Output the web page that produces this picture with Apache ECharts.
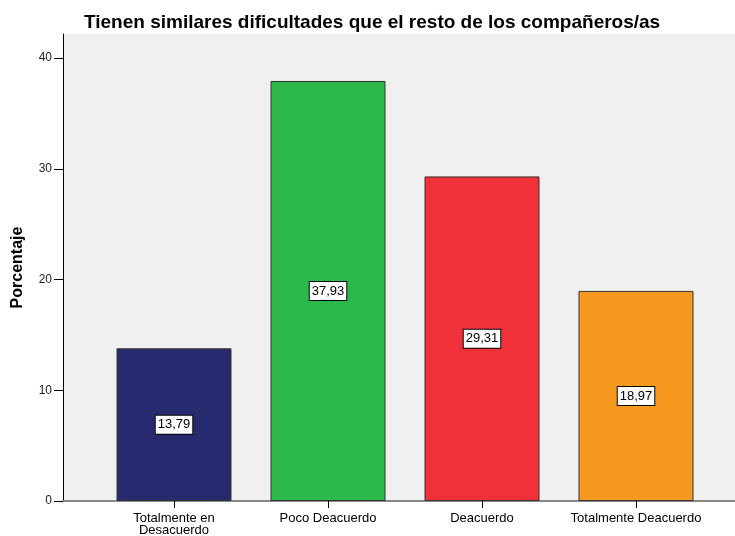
<!DOCTYPE html>
<html><head><meta charset="utf-8">
<script src="https://cdn.jsdelivr.net/npm/echarts@6/dist/echarts.min.js"></script>
<style>html,body{margin:0;padding:0;background:#fff}#c{width:735px;height:536px}</style>
</head><body><div id="c"></div>
<script>
const categories = ['Totalmente en\nDesacuerdo', 'Poco Deacuerdo', 'Deacuerdo', 'Totalmente Deacuerdo'];
const values = [13.79, 37.93, 29.31, 18.97];
const colors = ['#282A6F', '#2DB84B', '#F0313A', '#F7991F'];
const yTicks = [0, 10, 20, 30, 40];
const titleText = 'Tienen similares dificultades que el resto de los compañeros/as';
const yName = 'Porcentaje';

const chart = echarts.init(document.getElementById('c'));
const YMAX = 42.17;
chart.setOption({
  animation: false,
  title: {
    text: titleText, left: 79, top: 8,
    textStyle: {fontFamily: 'Liberation Sans', fontSize: 19, fontWeight: 'bold', color: '#000'}
  },
  grid: [
    {left: 63, right: 0, top: 34, bottom: 35, show: true, backgroundColor: '#F0F0F0', borderWidth: 0, containLabel: false, outerBoundsMode: 'none'},
    {left: 97, right: 22, top: 34, bottom: 35, containLabel: false, outerBoundsMode: 'none'}
  ],
  xAxis: [
    {gridIndex: 0, type: 'value', min: 0, max: 1, axisLine: {show: true, onZero: false, lineStyle: {color: '#000', width: 1}}, axisTick: {show: false}, axisLabel: {show: false}, splitLine: {show: false}},
    {gridIndex: 0, type: 'value', position: 'top', min: 0, max: 1, axisLine: {show: true, lineStyle: {color: '#888', width: 2}}, axisTick: {show: false}, axisLabel: {show: false}, splitLine: {show: false}},
    {gridIndex: 1, type: 'category', data: categories, axisLine: {show: false},
      axisTick: {show: true, alignWithLabel: true, interval: 0, length: 7, lineStyle: {color: '#000'}},
      axisLabel: {interval: 0, hideOverlap: false, fontFamily: 'Liberation Sans', fontSize: 13, color: '#000', lineHeight: 12, margin: 11}}
  ],
  yAxis: [
    {gridIndex: 0, type: 'value', min: 0, max: YMAX, interval: 10,
      name: yName, nameLocation: 'middle', nameGap: 37,
      nameTextStyle: {fontFamily: 'Liberation Sans', fontSize: 16, fontWeight: 'bold', color: '#000'},
      axisLine: {show: true, lineStyle: {color: '#000'}},
      axisTick: {show: true, length: 9, lineStyle: {color: '#000'}, customValues: yTicks},
      axisLabel: {fontFamily: 'Liberation Sans', fontSize: 12, color: '#222', margin: 11, customValues: yTicks},
      splitLine: {show: false}},
    {gridIndex: 1, type: 'value', min: 0, max: YMAX, show: false, splitLine: {show: false}}
  ],
  series: [{
    type: 'bar', xAxisIndex: 2, yAxisIndex: 1, barWidth: 115,
    data: values.map((v, i) => ({value: v, itemStyle: {color: colors[i]}})),
    itemStyle: {borderColor: '#333', borderWidth: 1},
    label: {show: true, position: 'inside', formatter: p => p.value.toFixed(2).replace('.', ','),
      fontFamily: 'Liberation Sans', fontSize: 13, color: '#000', backgroundColor: '#fff',
      borderColor: '#000', borderWidth: 1, padding: [3, 2, 2, 2]}
  }]
});
</script></body></html>
